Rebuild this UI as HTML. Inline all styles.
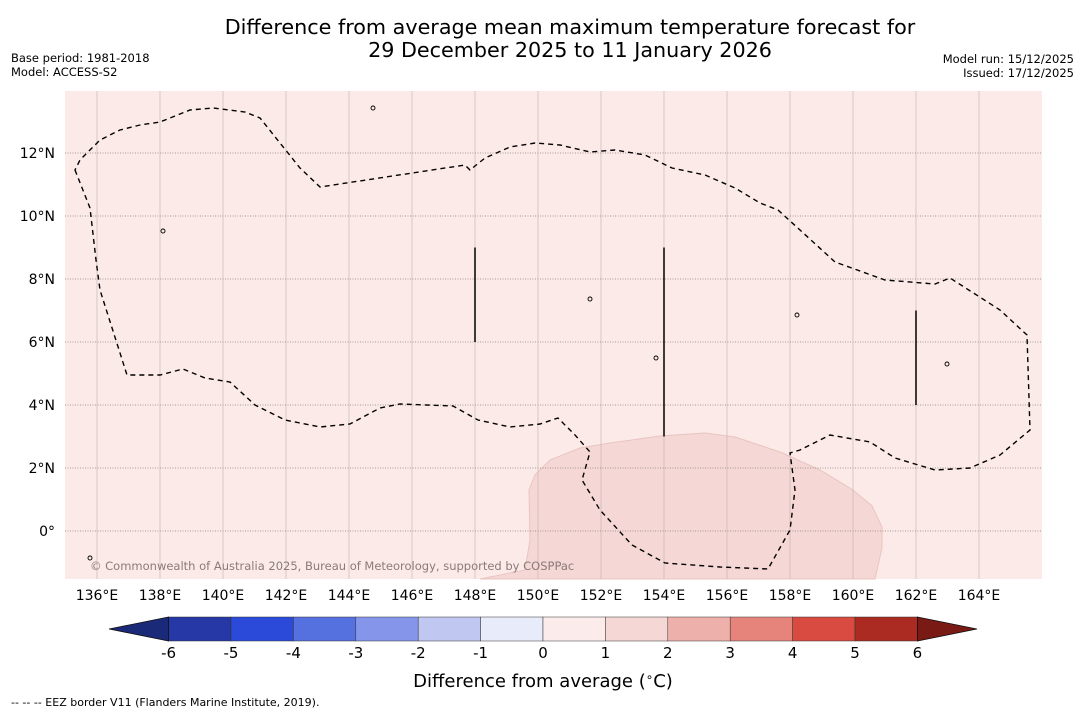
<!DOCTYPE html>
<html><head><meta charset="utf-8"><style>
body{margin:0;background:#fff;font-family:"DejaVu Sans","Liberation Sans",sans-serif;}
svg{display:block}
</style></head><body>
<svg id="s" width="1085" height="713" xmlns="http://www.w3.org/2000/svg" font-family="DejaVu Sans, Liberation Sans, sans-serif">
<text x="570" y="34" font-size="20.7" text-anchor="middle">Difference from average mean maximum temperature forecast for</text>
<text x="570" y="57" font-size="20.7" text-anchor="middle">29 December 2025 to 11 January 2026</text>
<text x="11" y="62" font-size="11.5">Base period: 1981-2018</text>
<text x="11" y="76" font-size="11.5">Model: ACCESS-S2</text>
<text x="1074" y="63" font-size="11.5" text-anchor="end">Model run: 15/12/2025</text>
<text x="1074" y="77" font-size="11.5" text-anchor="end">Issued: 17/12/2025</text>
<g id="map"></g>
<g id="cb"></g>
<text x="543" y="687" font-size="18" text-anchor="middle">Difference from average (<tspan font-size="12" dy="-6">∘</tspan><tspan dy="6">C)</tspan></text>
<text x="11" y="706" font-size="11">--  --  -- EEZ border V11 (Flanders Marine Institute, 2019).</text>
</svg>
<script>
const lonTicks=[136,138,140,142,144,146,148,150,152,154,156,158,160,162,164];
const latTicks=[0,2,4,6,8,10,12];
const cbLevels=[-6,-5,-4,-3,-2,-1,0,1,2,3,4,5,6];
const cbColors=["#2538a5","#2b4ad9","#5571e0","#8596ea","#c0c8f2","#e8ebf9","#fbeceb","#f5d8d5","#eeb0aa","#e6847c","#d94a40","#ab2a22"];
const NS="http://www.w3.org/2000/svg";
const X=lon=>97+(lon-136)*31.5, Y=lat=>531-lat*31.5;
function el(t,a,p){const e=document.createElementNS(NS,t);for(const k in a)e.setAttribute(k,a[k]);p.appendChild(e);return e;}
const m=document.getElementById('map');
const bg=el('rect',{x:65,y:91,width:977,height:488,fill:"#fbeae8"},m);


const warm=el('path',{d:"M480,579 L525,570 L530,540 L529,490 L535,475 L550,460 L580,448 L610,443 L660,436 L705,433 L735,437 L780,452 L820,470 L853,490 L872,506 L882,527 L882,548 L875,579 Z",fill:"#f5d8d5",stroke:"#e9c4c0","stroke-width":1},m);


lonTicks.forEach(l=>{
 const g=el('line',{x1:X(l),x2:X(l),y1:91,y2:579,stroke:"#c0b0b0","stroke-width":0.6},m);
 
 
 const t=el('text',{x:X(l),y:600,"font-size":14,"text-anchor":"middle"},m);t.textContent=l+"°E";
 
 
});
latTicks.forEach(l=>{
 const g=el('line',{x1:65,x2:1042,y1:Y(l),y2:Y(l),stroke:"#8a8080","stroke-width":0.8,"stroke-dasharray":"1,1.5"},m);
 
 
 const t=el('text',{x:55,y:Y(l)+5,"font-size":14,"text-anchor":"end"},m);t.textContent=l===0?"0°":l+"°N";
 
 
});
const eez=el('path',{d:"M75,170 L90,208 L96,260 L100,290 L127,375 L160,375 L183,369 L205,378 L230,382 L255,405 L285,420 L320,427 L350,424 L380,408 L400,404 L453,406 L478,420 L510,427 L540,424 L558,418 L575,435 L590,452 L582,480 L600,510 L632,545 L665,563 L720,567 L768,569 L790,530 L795,490 L790,453 L800,450 L830,435 L870,442 L895,458 L935,470 L970,468 L1000,455 L1030,430 L1027,335 L1000,310 L950,278 L935,284 L885,280 L835,262 L800,230 L778,210 L760,203 L735,188 L705,175 L672,168 L645,155 L615,150 L590,152 L560,145 L535,143 L510,147 L485,158 L470,170 L465,165 L320,187 L300,168 L260,118 L245,112 L213,108 L190,110 L160,122 L140,125 L120,130 L100,140 L80,160 Z",fill:"none",stroke:"#000","stroke-width":1.4,"stroke-dasharray":"5,4"},m);


[[148,6,9],[154,3,9],[162,4,7]].forEach(v=>{
 const l=el('line',{x1:X(v[0]),x2:X(v[0]),y1:Y(v[1]),y2:Y(v[2]),stroke:"#000","stroke-width":1.5},m);
 
 
});
[[373,108],[163,231],[590,299],[797,315],[947,364],[656,358],[90,558]].forEach(p=>{
 const i=el('circle',{cx:p[0],cy:p[1],r:2,fill:"none",stroke:"#000","stroke-width":0.9},m);
 
 
});
const cp=el('text',{x:90,y:570,"font-size":11.5,fill:"#8a7a7a"},m);cp.textContent="© Commonwealth of Australia 2025, Bureau of Meteorology, supported by COSPPac";


const cb=document.getElementById('cb');
const CX=v=>543+v*62.4, cy0=617, cy1=641;
cbColors.forEach((c,i)=>{
 const r=el('rect',{x:CX(cbLevels[i]),y:cy0,width:CX(cbLevels[i+1])-CX(cbLevels[i]),height:cy1-cy0,fill:c,stroke:"#333","stroke-width":0.5},cb);
 
 
});
const tl=el('path',{d:`M${CX(-6)},${cy0} L109,629 L${CX(-6)},${cy1} Z`,fill:"#1b2a78",stroke:"#111","stroke-width":0.8},cb);


const tr=el('path',{d:`M${CX(6)},${cy0} L977,629 L${CX(6)},${cy1} Z`,fill:"#7a1a15",stroke:"#111","stroke-width":0.8},cb);


cbLevels.forEach(v=>{
 const t=el('text',{x:CX(v),y:658,"font-size":15,"text-anchor":"middle"},cb);t.textContent=v;
 
 
});
</script>
</body></html>
